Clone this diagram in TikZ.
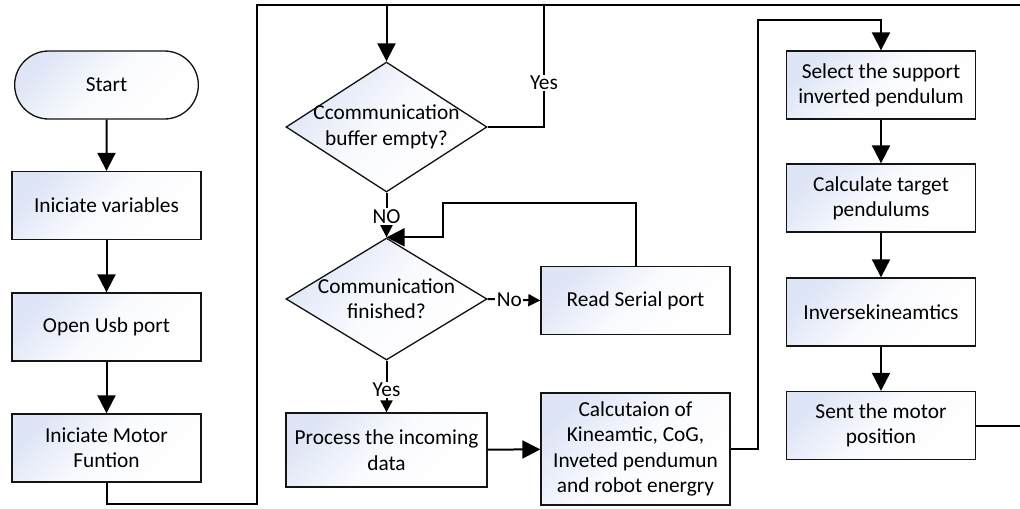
\documentclass[tikz,border=0pt]{standalone}
\usepackage{fontspec}
\setmainfont{Carlito}
\usetikzlibrary{shapes.geometric,shapes.misc,arrows.meta}

\definecolor{boxblue}{RGB}{222,229,246}
\definecolor{edge}{RGB}{20,20,20}

\tikzset{
  txt/.style={font=\fontsize{16}{19}\selectfont, align=center},
  base/.style={draw=edge, line width=1pt, top color=boxblue, bottom color=white,
    shading angle=45, middle color=white!85!boxblue, txt, inner sep=2pt},
  procbox/.style={base, rectangle, minimum width=141.75pt, minimum height=51pt},
  termbox/.style={base, rounded rectangle, minimum width=141.75pt, minimum height=51pt},
  decision/.style={base, diamond, minimum width=150.75pt, minimum height=#1, inner sep=0pt},
  flow/.style={line width=1.5pt, draw=black, -{Triangle[length=13.5pt,width=13.5pt]}},
  smallflow/.style={line width=1.5pt, draw=black, -{Triangle[length=9pt,width=9pt]}},
  wire/.style={line width=1.5pt, draw=black},
  lbl/.style={fill=white, inner sep=1pt, txt}
}

\begin{document}
\begin{tikzpicture}[x=0.75pt,y=-0.75pt]
\path[use as bounding box, clip] (0,0) rectangle (1020,508);

% left column: initialisation
\node[termbox] (start) at (106.5,85) {Start};
\node[procbox] (vars)  at (106.5,205.5) {Iniciate variables};
\node[procbox] (usb)   at (106.5,327) {Open Usb port};
\node[procbox] (motor) at (106.5,448) {Iniciate Motor\\Funtion};

% middle column: communication handling
\node[decision=97.5pt, label={[txt]center:Ccommunication\\buffer empty?}] (buf) at (386.5,127) {};
\node[decision=91.5pt, label={[txt]center:Communication\\finished?}] (fin) at (386.5,299) {};
\node[procbox] (read) at (635.5,300.5) {Read Serial port};
\node[procbox, minimum width=150.75pt, minimum height=55.5pt] (proc) at (386.5,450) {Process the incoming\\data};
\node[procbox, minimum height=84pt] (calc) at (635.5,449) {Calcutaion of\\Kineamtic, CoG,\\Inveted pendumun\\and robot energry};

% right column: control output
\node[procbox] (sel)  at (881,85)    {Select the support\\inverted pendulum};
\node[procbox] (tgt)  at (881,198)   {Calculate target\\pendulums};
\node[procbox] (inv)  at (881,312)   {Inversekineamtics};
\node[procbox] (sent) at (881,425.5) {Sent the motor\\position};

% routing points
\coordinate (top)   at (386.5,5);
\coordinate (leftbus) at (257,504);
\coordinate (rightbus) at (1030,5);
\coordinate (yesloop) at (544,5);
\coordinate (readup) at (443,203);
\coordinate (calcup) at (758,20);

% straight connectors
\draw[flow] (start) -- (vars);
\draw[flow] (vars) -- (usb);
\draw[flow] (usb) -- (motor);
\draw[flow] (proc) -- (calc);
\draw[flow] (sel) -- (tgt);
\draw[flow] (tgt) -- (inv);
\draw[flow] (inv) -- (sent);

% main loop back to the buffer check
\draw[flow] (motor.south) |- (leftbus) |- (top) -- (buf.north);
\draw[wire] (sent.east) -| (rightbus) -- (top);
\draw[wire] (buf.east) -| (yesloop) node[lbl, pos=0.68] {Yes};

% decisions
\draw[flow] (buf.south) -- node[lbl, pos=0.54] {NO} (fin.north);
\draw[smallflow] (fin.east) -- node[lbl, pos=0.41] {No} (read.west);
\draw[flow] (read.north) |- (readup) |- (fin.north);
\draw[smallflow] (fin.south) -- node[lbl, pos=0.57] {Yes} (proc.north);

% into the control column
\draw[flow] (calc.east) -| (calcup) -| (sel.north);
\end{tikzpicture}
\end{document}
